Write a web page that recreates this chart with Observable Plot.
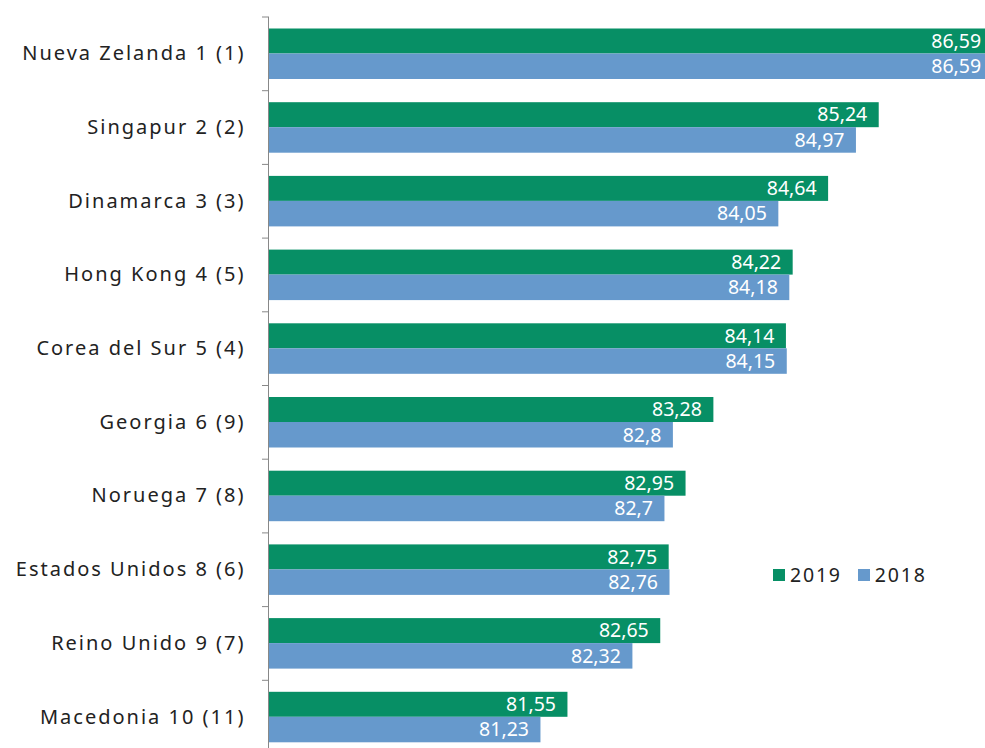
<!DOCTYPE html>
<html>
<head>
<meta charset="utf-8">
<script src="https://cdn.jsdelivr.net/npm/d3@7"></script>
<script src="https://cdn.jsdelivr.net/npm/@observablehq/plot@0.6"></script>
<style>
  html, body { margin: 0; padding: 0; overflow: hidden; background: #fff; }
  #wrap { position: relative; width: 985px; height: 748px; overflow: hidden; font-family: "Noto Sans", sans-serif; }
  #legend { position: absolute; left: 773px; top: 561px; display: flex; align-items: center; font-size: 19.5px; color: #222; letter-spacing: 1.8px; }
  #legend .sw { display: inline-block; width: 12px; height: 12px; margin-right: 5px; }
  #legend .item { display: flex; align-items: center; margin-right: 16px; }
</style>
</head>
<body>
<div id="wrap">
  <div id="chart"></div>
  <div id="legend"></div>
</div>
<script>
const countries = [
  "Nueva Zelanda 1 (1)", "Singapur 2 (2)", "Dinamarca 3 (3)", "Hong Kong 4 (5)",
  "Corea del Sur 5 (4)", "Georgia 6 (9)", "Noruega 7 (8)", "Estados Unidos 8 (6)",
  "Reino Unido 9 (7)", "Macedonia 10 (11)"
];
const values2019 = [86.59, 85.24, 84.64, 84.22, 84.14, 83.28, 82.95, 82.75, 82.65, 81.55];
const values2018 = [86.59, 84.97, 84.05, 84.18, 84.15, 82.8, 82.7, 82.76, 82.32, 81.23];
const seriesNames = ["2019", "2018"];
const colors = ["#078f65", "#6699cc"];

const xMin = 78;
const xMax = 86.5;
const marginTop = 16.5;
const height = 753.5;
const band = (height - marginTop) / countries.length;

const d2019 = countries.map((c, i) => ({country: c, value: values2019[i]}));
const d2018 = countries.map((c, i) => ({country: c, value: values2018[i]}));
const fmt = v => String(v).replace(".", ",");

const chart = Plot.plot({
  width: 985,
  height: height,
  marginTop: marginTop,
  marginBottom: 0,
  marginLeft: 268,
  marginRight: 0,
  style: {fontFamily: "Noto Sans, sans-serif", background: "#fff", overflow: "visible"},
  x: {domain: [xMin, xMax], axis: null},
  y: {domain: countries, padding: 0, round: false, label: null},
  marks: [
    Plot.barX(d2019, {x1: xMin, x2: "value", y: "country", fill: colors[0], insetTop: 12, insetBottom: band - 37}),
    Plot.barX(d2018, {x1: xMin, x2: "value", y: "country", fill: colors[1], insetTop: 37, insetBottom: band - 62.5}),
    Plot.text(d2019, {x: "value", y: "country", text: d => fmt(d.value), dy: 24.5 - band / 2, dx: -12, textAnchor: "end", fill: "#fff", fontSize: 19.5, style: "letter-spacing:1.4px"}),
    Plot.text(d2018, {x: "value", y: "country", text: d => fmt(d.value), dy: 49.8 - band / 2, dx: -12, textAnchor: "end", fill: "#fff", fontSize: 19.5, style: "letter-spacing:1.4px"}),
    Plot.axisY({tickSize: 0, tickPadding: 23, fontSize: 20, fill: "#222", label: null}),
    Plot.ruleY(countries, {y: d => d, x1: xMin, x2: xMin, insetLeft: -6, dy: -band / 2, stroke: "#888"}),
    Plot.ruleX([xMin], {stroke: "#888"})
  ]
});
chart.querySelectorAll("g[aria-label='y-axis tick label'] text").forEach(t => t.setAttribute("letter-spacing", "2.0"));
document.getElementById("chart").appendChild(chart);

const legend = document.getElementById("legend");
seriesNames.forEach((n, i) => {
  const item = document.createElement("span");
  item.className = "item";
  item.innerHTML = `<span class="sw" style="background:${colors[i]}"></span>${n}`;
  legend.appendChild(item);
});
</script>
</body>
</html>
